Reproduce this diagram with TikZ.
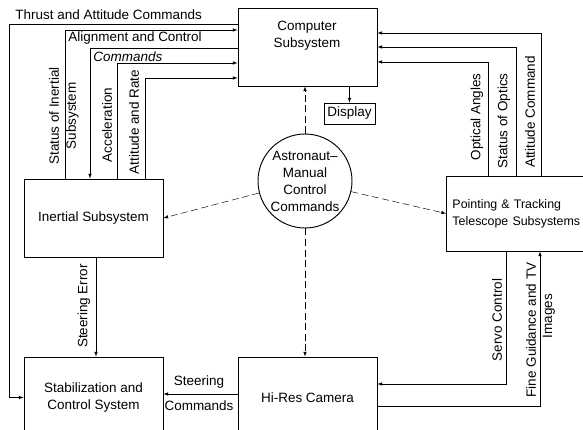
\documentclass[tikz,border=0pt]{standalone}
\usepackage{fontspec}
\setmainfont{Liberation Sans}
\usetikzlibrary{calc}

\begin{document}
\begin{tikzpicture}[x=0.03cm, y=-0.03cm,
  font=\fontsize{11.5}{14.5}\selectfont,
  blk/.style={draw, thick, align=center, inner sep=0pt},
  flow/.style={thin, -latex},
  man/.style={thin, dash pattern=on 6pt off 3pt, -latex},
  lbl/.style={inner sep=1pt},
  vlbl/.style={inner sep=1pt, rotate=90, align=center}]
\useasboundingbox (0,0) rectangle (583,430);

% blocks
\node[blk, minimum width=4.17cm, minimum height=2.34cm] (comp) at (307.5,47) {};
\node[lbl, align=center] (comptxt) at (307,36) {Computer\\Subsystem};
\node[blk, minimum width=1.53cm, minimum height=0.63cm] (disp) at (349.5,113.5) {Display};
\node[blk, minimum width=4.17cm, minimum height=2.34cm] (inert) at (93.5,218) {Inertial Subsystem};
\node[blk, anchor=west, align=left, text width=4.4cm, inner xsep=0.18cm,
  minimum height=2.25cm, font=\fontsize{10.6}{14.5}\selectfont] (pts) at (446,213.5) {Pointing \& Tracking\\Telescope Subsystems};
\node[blk, minimum width=4.17cm, minimum height=2.43cm] (stab) at (93.5,397.5) {Stabilization and\\Control System};
\node[blk, minimum width=4.17cm, minimum height=2.43cm] (cam) at (307.5,397.5) {Hi-Res Camera};
\node[blk, circle, minimum size=2.82cm] (astro) at (305,181) {Astronaut--\\Manual\\Control\\Commands};

% turning points
\coordinate (thr) at (9,24);
\coordinate (sis) at (65,30);
\coordinate (alc) at (90,48);
\coordinate (acc) at (117,63);
\coordinate (atr) at (145,78);
\coordinate (oa) at (488,62);
\coordinate (so) at (516,47);
\coordinate (ac) at (541,33);
\coordinate (sv) at (506,384);
\coordinate (fg) at (540,406);
\coordinate (se) at (96,0);
\coordinate (sc) at (0,394);

% inertial <-> computer
\draw[thin] (comp.west |- thr) -- (thr);
\draw[flow] (thr) |- (stab.west);
\draw[flow] (inert.north -| sis) |- (comp.west |- sis);
\draw[flow] (comp.west |- alc) -| (inert.north -| alc);
\draw[flow] (inert.north -| acc) |- (comp.west |- acc);
\draw[flow] (inert.north -| atr) |- (comp.west |- atr);

% telescope <-> computer
\draw[flow] (pts.north -| oa) |- (comp.east |- oa);
\draw[flow] (pts.north -| so) |- (comp.east |- so);
\draw[flow] (pts.north -| ac) |- (comp.east |- ac);

% telescope <-> camera
\draw[flow] (pts.south -| sv) |- (cam.east |- sv);
\draw[flow] (cam.east |- fg) -| (pts.south -| fg);

\draw[flow] (inert.south -| se) -- (stab.north -| se);
\draw[flow] (cam.west |- sc) -- (stab.east |- sc);
\draw[flow] (comp.south -| disp) -- (disp.north);

% manual commands
\draw[man] (astro.north) -- (comp.south -| astro);
\draw[man] (astro) -- (inert.east);
\draw[man] (astro) -- (pts.west);
\draw[man] (astro.south) -- (cam.north -| astro);

% labels
\node[lbl, anchor=west] (lthr) at (14,15) {Thrust and Attitude Commands};
\node[lbl, anchor=west] (lalc) at (67,38) {Alignment and Control};
\node[lbl, anchor=west, font=\fontsize{11.5}{14.5}\selectfont\itshape] (lcmd) at (92,57) {Commands};
\node[vlbl] (lsis) at (64,116) {Status of Inertial\\Subsystem};
\node[vlbl] (lacc) at (107,125) {Acceleration};
\node[vlbl] (latr) at (134,122) {Attitude and Rate};
\node[vlbl] (loa) at (477,117) {Optical Angles};
\node[vlbl] (lso) at (504,121) {Status of Optics};
\node[vlbl] (lac) at (530,112) {Attitude Command};
\node[vlbl] (lsv) at (497,320) {Servo Control};
\node[vlbl] (lfg) at (531,330) {Fine Guidance and TV};
\node[vlbl] (limg) at (549,316) {Images};
\node[vlbl] (lse) at (84,306) {Steering Error};
\node[lbl] (lst) at (199,382) {Steering};
\node[lbl] (lstc) at (199,406) {Commands};
\end{tikzpicture}
\end{document}
